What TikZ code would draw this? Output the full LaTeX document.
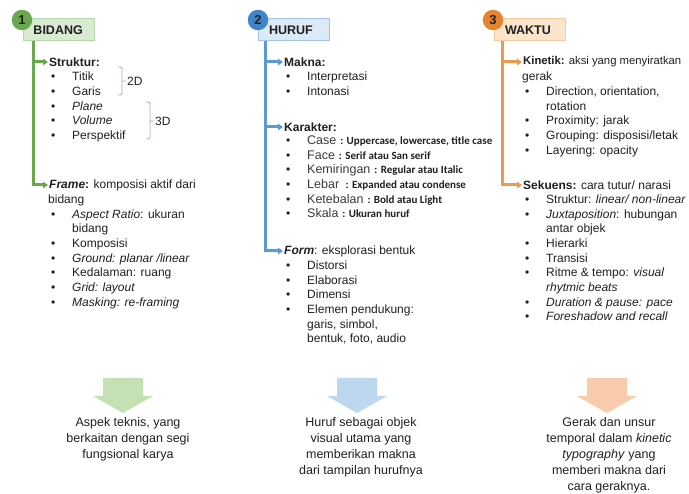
\documentclass[tikz,border=0pt]{standalone}
\usepackage{fontspec}
\setmainfont{Liberation Sans}
\newfontfamily\calib{Carlito}
\usetikzlibrary{arrows.meta,positioning,calc}
\definecolor{inkK}{HTML}{202020}
\definecolor{inkG}{HTML}{3A3A3A}
\definecolor{greenD}{HTML}{6AA84F}
\definecolor{greenB}{HTML}{B6D7A8}
\definecolor{greenL}{HTML}{D9EAD3}
\definecolor{greenA}{HTML}{C5E0B3}
\definecolor{blueD}{HTML}{3D85C6}
\definecolor{blueT}{HTML}{5B9BD5}
\definecolor{blueB}{HTML}{A4C6E8}
\definecolor{blueL}{HTML}{DCE9F6}
\definecolor{blueA}{HTML}{BDD7EE}
\definecolor{orangeD}{HTML}{E6842E}
\definecolor{orangeT}{HTML}{EE9A4D}
\definecolor{orangeB}{HTML}{F9CB9C}
\definecolor{orangeL}{HTML}{FCE5CD}
\definecolor{orangeA}{HTML}{F8CBAD}
\newcommand{\bul}{\makebox[24pt][l]{\hspace{3pt}\textbullet}}
\newcommand{\ind}{\hspace*{24pt}}
\newcommand{\kar}[2]{\bul{\fontsize{12.5}{14.7}\selectfont\color{inkG}#1}\hspace{4pt}{\calib\fontsize{11}{14.7}\selectfont\bfseries #2}}
\tikzset{
  hdrbox/.style 2 args={draw=#1, fill=#2, line width=1pt, minimum height=22pt,
    text width=50pt, inner xsep=10.5pt, inner ysep=0pt, align=left,
    font=\fontsize{12.5}{14}\selectfont\bfseries, text=inkK},
  numdot/.style={circle, fill=#1, minimum size=20.5pt, inner sep=0pt,
    font=\fontsize{13}{14}\selectfont\bfseries, text=inkK},
  head/.style={anchor=west, inner sep=1pt, font=\fontsize{12}{14.7}\selectfont, text=inkK},
  items/.style={anchor=north west, inner sep=0pt, align=left,
    font=\fontsize{12}{14.7}\selectfont, text=inkK},
  trunk/.style={draw=#1, line width=3pt, -{Triangle[length=5pt,width=6.5pt]}},
  note/.style={anchor=north, align=center, inner sep=0pt,
    font=\fontsize{12.5}{16}\selectfont, text=inkK},
  downarrow/.pic={
    \fill (-20,0) -- (20,0) -- (20,18) -- (30,18) -- (0,35) -- (-30,18) -- (-20,18) -- cycle;
  }
}
\begin{document}
\begin{tikzpicture}[x=1pt, y=-1pt]
  \fill[white] (0,0) rectangle (689,494);
  \useasboundingbox (0,0) rectangle (689,494);

  % column 1: bidang
  \node[hdrbox={greenB}{greenL}] (bidang) at (58.5,30) {BIDANG};
  \node[numdot=greenD] (numA) at (22,20) {1};
  \node[head] (struktur) at (48,62) {\textbf{Struktur:}};
  \node[items] (strukturL) at (48,72) {\bul Titik\\ \bul Garis\\ \bul\textit{Plane}\\ \bul\textit{Volume}\\ \bul Perspektif};
  \node[head, anchor=west] (dueD) at (126,81) {2D};
  \node[head, anchor=west] (triD) at (154,121) {3D};
  \draw[greenD!70, line width=0.8pt, rounded corners=1.5pt]
    (118,67) -- (122,67) -- (122,95) -- (118,95) (122,81) -- (dueD.west);
  \draw[greenD!70, line width=0.8pt, rounded corners=1.5pt]
    (146,102) -- (150,102) -- (150,139) -- (146,139) (150,121) -- (triD.west);
  \node[head] (frame) at (48,185) {\textbf{\textit{Frame}:} komposisi aktif dari};
  \node[items] (frameL) at (48,194.5) {bidang\\ \bul\textit{Aspect Ratio}: ukuran\\ \ind bidang\\
    \bul Komposisi\\ \bul\textit{Ground: planar /linear}\\ \bul Kedalaman: ruang\\
    \bul\textit{Grid: layout}\\ \bul\textit{Masking: re-framing}};
  \coordinate (tA) at ($(bidang.south west)+(11,0)$);
  \draw[trunk=greenD] (tA) |- (struktur.west);
  \draw[trunk=greenD] (tA) |- (frame.west);

  % column 2: huruf
  \node[hdrbox={blueB}{blueL}] (huruf) at (294,30) {HURUF};
  \node[numdot=blueD] (numB) at (258,20) {2};
  \node[head] (makna) at (283,62) {\textbf{Makna:}};
  \node[items] (maknaL) at (283,72) {\bul Interpretasi\\ \bul Intonasi};
  \node[head] (karakter) at (283,127) {\textbf{Karakter:}};
  \node[items] (karakterL) at (283,135.5) {\kar{Case}{: Uppercase, lowercase, title case}\\
    \kar{Face}{: Serif atau San serif}\\ \kar{Kemiringan}{: Regular atau Italic}\\
    \kar{Lebar}{~: Expanded atau condense}\\ \kar{Ketebalan}{: Bold atau Light}\\
    \kar{Skala}{: Ukuran huruf}};
  \node[head] (form) at (283,251) {\textbf{\textit{Form}}: eksplorasi bentuk};
  \node[items] (formL) at (283,260.5) {\bul Distorsi\\ \bul Elaborasi\\ \bul Dimensi\\
    \bul Elemen pendukung:\\ \ind garis, simbol,\\ \ind bentuk, foto, audio};
  \coordinate (tB) at ($(huruf.south west)+(7,0)$);
  \draw[trunk=blueT] (tB) |- (makna.west);
  \draw[trunk=blueT] (tB) |- (karakter.west);
  \draw[trunk=blueT] (tB) |- (form.west);

  % column 3: waktu
  \node[hdrbox={orangeB}{orangeL}] (waktu) at (530,30) {WAKTU};
  \node[numdot=orangeD] (numC) at (493,20) {3};
  \node[head, font=\fontsize{11.3}{14.7}\selectfont] (kinetik) at (522,62) {\textbf{Kinetik:} aksi yang menyiratkan};
  \node[items] (kinetikL) at (522,72) {gerak\\ \bul Direction, orientation,\\ \ind rotation\\
    \bul Proximity: jarak\\ \bul Grouping: disposisi/letak\\ \bul Layering: opacity};
  \node[head] (sekuens) at (522,185) {\textbf{Sekuens:} cara tutur/ narasi};
  \node[items] (sekuensL) at (522,194.5) {\bul Struktur: \textit{linear/ non-linear}\\
    \bul\textit{Juxtaposition}: hubungan\\ \ind antar objek\\ \bul Hierarki\\ \bul Transisi\\
    \bul Ritme \& tempo: \textit{visual}\\ \ind\textit{rhytmic beats}\\
    \bul\textit{Duration \& pause: pace}\\ \bul\textit{Foreshadow and recall}};
  \coordinate (tC) at ($(waktu.south west)+(8,0)$);
  \draw[trunk=orangeT] (tC) |- (kinetik.west);
  \draw[trunk=orangeT] (tC) |- (sekuens.west);

  % bottom arrows and notes
  \pic[fill=greenA] at (123,378) {downarrow};
  \pic[fill=blueA] at (357,378) {downarrow};
  \pic[fill=orangeA] at (607,378) {downarrow};
  \node[note] (noteA) at (128,417) {Aspek teknis, yang\\ berkaitan dengan segi\\ fungsional karya};
  \node[note] (noteB) at (361,417) {Huruf sebagai objek\\ visual utama yang\\ memberikan makna\\ dari tampilan hurufnya};
  \node[note] (noteC) at (609,417) {Gerak dan unsur\\ temporal dalam \textit{kinetic}\\ \textit{typography} yang\\ memberi makna dari\\ cara geraknya.};
\end{tikzpicture}
\end{document}
